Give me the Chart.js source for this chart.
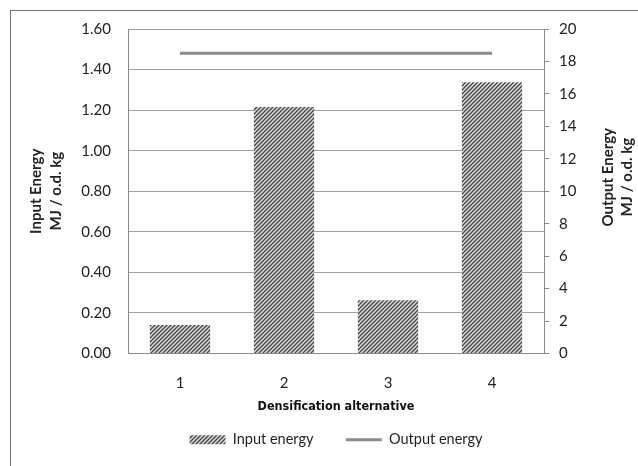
<!DOCTYPE html>
<html>
<head>
    <title>Energy</title>
    <style>
        body { margin: 0; background: #fff; }
        #frame { position: absolute; left: 10px; top: 10px; width: 640px; height: 470px;
                 border-left: 1px solid #777; border-top: 1px solid #777; }
        #chart { position: absolute; left: 0; top: 0; width: 638px; height: 466px; }
    </style>
</head>
<body>
    <div id="frame"></div>
    <div id="chart">
        <canvas id="myChart" width="638" height="466"></canvas>
    </div>
</body>
<script src="https://cdn.jsdelivr.net/npm/chart.js@4/dist/chart.umd.min.js"></script>
<script>
    const labels = ["1", "2", "3", "4"];
    const inputEnergy = [0.14, 1.215, 0.262, 1.337];
    const outputEnergy = [18.5, 18.5, 18.5, 18.5];
    const leftTicks = [0, 0.2, 0.4, 0.6, 0.8, 1.0, 1.2, 1.4, 1.6];
    const rightTicks = [0, 2, 4, 6, 8, 10, 12, 14, 16, 18, 20];

    const ctx = document.getElementById('myChart').getContext('2d');

    // diagonal hatch like the excel fill
    function hatch() {
        const c = document.createElement('canvas');
        c.width = 4;
        c.height = 4;
        const p = c.getContext('2d');
        p.fillStyle = '#dcdcdc';
        p.fillRect(0, 0, 4, 4);
        p.strokeStyle = '#444';
        p.lineWidth = 1.3;
        p.beginPath();
        p.moveTo(0, 4); p.lineTo(4, 0);
        p.moveTo(-1, 1); p.lineTo(1, -1);
        p.moveTo(3, 5); p.lineTo(5, 3);
        p.stroke();
        return p.createPattern(c, 'repeat');
    }
    const hatchFill = hatch();

    // right title reads bottom to top, chart.js would rotate it the other way
    const rightTitle = {
        id: 'rightTitle',
        afterDraw(chart) {
            const c = chart.ctx;
            const area = chart.chartArea;
            c.save();
            c.fillStyle = '#222';
            c.font = 'bold 15px Lato';
            c.textAlign = 'center';
            c.textBaseline = 'middle';
            c.translate(608, (area.top + area.bottom) / 2 - 14);
            c.rotate(-Math.PI / 2);
            c.fillText('Output Energy', 0, 0);
            c.fillText('MJ / o.d. kg', 0, 19);
            c.restore();
        }
    };

    const myChart = new Chart(ctx, {
        type: 'bar',
        data: {
            labels: labels,
            datasets: [{
                label: 'Input energy',
                data: inputEnergy,
                backgroundColor: hatchFill,
                borderWidth: 0,
                categoryPercentage: 1,
                barPercentage: 0.58,
                yAxisID: 'y',
                pointStyle: 'rect'
            }, {
                type: 'line',
                label: 'Output energy',
                data: outputEnergy,
                borderColor: '#8c8c8c',
                backgroundColor: '#8c8c8c',
                borderWidth: 3,
                pointRadius: 0,
                pointStyle: 'line',
                yAxisID: 'y1'
            }]
        },
        options: {
            responsive: false,
            animation: false,
            layout: { padding: { left: 0, right: 0, top: 29, bottom: 9 } },
            plugins: {
                tooltip: { enabled: false },
                legend: {
                    position: 'bottom',
                    fullSize: false,
                    labels: {
                        usePointStyle: true,
                        pointStyleWidth: 36,
                        boxHeight: 9,
                        padding: 10,
                        color: '#222',
                        font: { family: 'Lato', size: 14.5 },
                        generateLabels(chart) {
                            const items = Chart.defaults.plugins.legend.labels.generateLabels(chart);
                            // wider gap between the two entries
                            items[0].text = items[0].text + '      ';
                            return items;
                        }
                    }
                }
            },
            scales: {
                x: {
                    grid: { display: false },
                    border: { color: '#888' },
                    ticks: { color: '#222', padding: 13, font: { family: 'Lato', size: 15 } },
                    title: {
                        display: true,
                        text: 'Densification alternative',
                        color: '#111',
                        padding: { top: 2, bottom: 8 },
                        font: { family: 'DejaVu Sans Condensed, Liberation Sans', size: 12.5, weight: 'bold' }
                    },
                    afterFit(s) { s.height = 69; }
                },
                y: {
                    position: 'left',
                    min: 0,
                    max: 1.6,
                    afterBuildTicks(s) { s.ticks = leftTicks.map(v => ({ value: v })); },
                    grid: { color: '#a0a0a0', drawTicks: false },
                    border: { color: '#888' },
                    ticks: {
                        color: '#222',
                        padding: 17,
                        font: { family: 'Lato', size: 15 },
                        callback: v => v.toFixed(2)
                    },
                    title: {
                        display: true,
                        text: ['Input Energy', 'MJ / o.d. kg'],
                        color: '#222',
                        padding: { top: 26, bottom: 0 },
                        font: { family: 'Lato', size: 15, weight: 'bold', lineHeight: 1.35 }
                    },
                    afterFit(s) { s.width = 128; }
                },
                y1: {
                    position: 'right',
                    min: 0,
                    max: 20,
                    afterBuildTicks(s) { s.ticks = rightTicks.map(v => ({ value: v })); },
                    grid: { drawOnChartArea: false, color: '#888', tickLength: 5 },
                    border: { color: '#888' },
                    ticks: { color: '#222', padding: 10, font: { family: 'Lato', size: 15 } },
                    afterFit(s) { s.width = 94; }
                }
            }
        },
        plugins: [rightTitle]
    });
</script>
</html>
